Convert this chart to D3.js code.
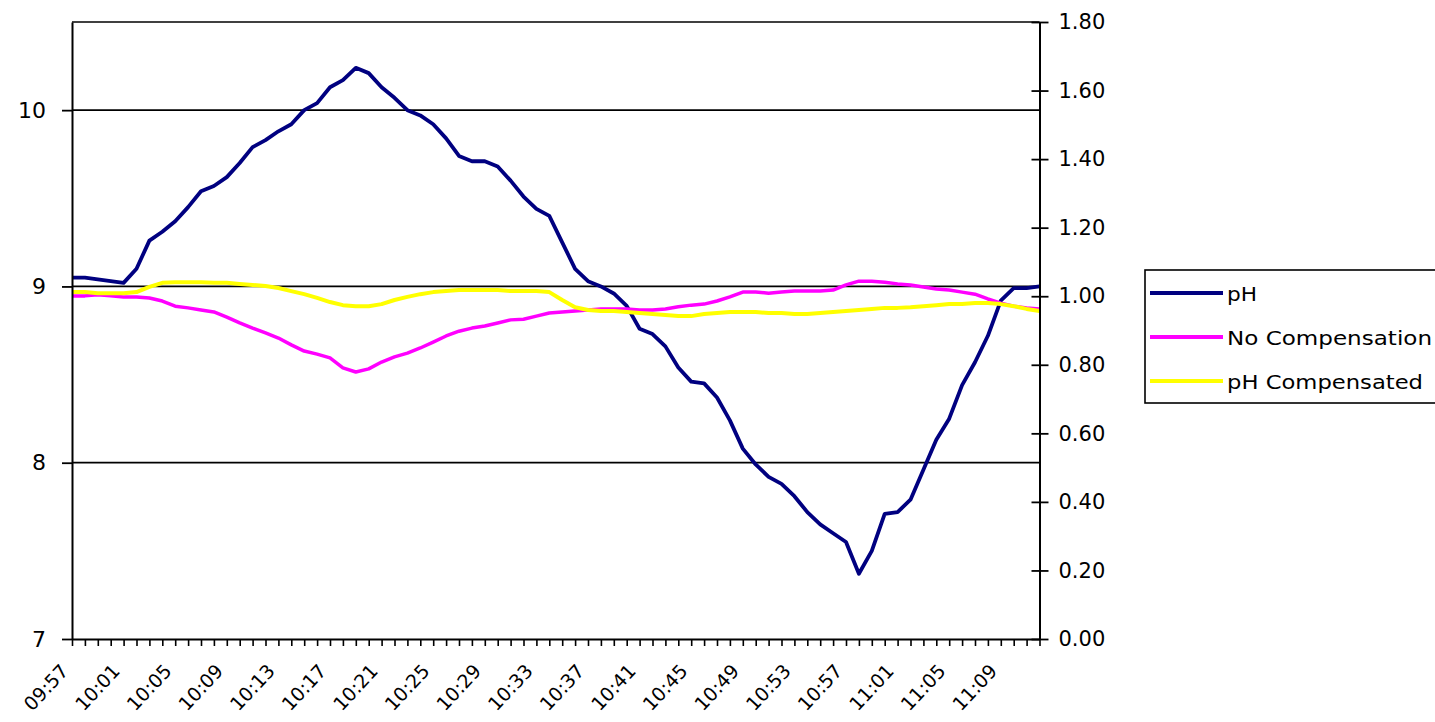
<!DOCTYPE html>
<html><head><meta charset="utf-8">
<script src="https://cdn.jsdelivr.net/npm/d3@7"></script>
<style>
body{margin:0;background:#fff;}
svg{display:block;}
text{font-family:"DejaVu Sans",Verdana,sans-serif;fill:#000;}
</style>
</head><body>
<svg id="c" width="1435" height="722"></svg>
<script>
// ---- data ----
const times = ["09:57","09:58","09:59","10:00","10:01","10:02","10:03","10:04","10:05","10:06",
"10:07","10:08","10:09","10:10","10:11","10:12","10:13","10:14","10:15","10:16",
"10:17","10:18","10:19","10:20","10:21","10:22","10:23","10:24","10:25","10:26",
"10:27","10:28","10:29","10:30","10:31","10:32","10:33","10:34","10:35","10:36",
"10:37","10:38","10:39","10:40","10:41","10:42","10:43","10:44","10:45","10:46",
"10:47","10:48","10:49","10:50","10:51","10:52","10:53","10:54","10:55","10:56",
"10:57","10:58","10:59","11:00","11:01","11:02","11:03","11:04","11:05","11:06",
"11:07","11:08","11:09","11:10","11:11","11:12"];

const pH = [9.05,9.05,9.04,9.03,9.02,9.10,9.26,9.31,9.37,9.45,
9.54,9.57,9.62,9.70,9.79,9.83,9.88,9.92,10.00,10.04,
10.13,10.17,10.24,10.21,10.13,10.07,10.00,9.97,9.92,9.84,
9.74,9.71,9.71,9.68,9.60,9.51,9.44,9.40,9.25,9.10,
9.03,9.00,8.96,8.89,8.76,8.73,8.66,8.54,8.46,8.45,
8.37,8.24,8.08,7.99,7.92,7.88,7.81,7.72,7.65,7.60,
7.55,7.37,7.50,7.71,7.72,7.79,7.96,8.13,8.25,8.44,
8.57,8.72,8.92,8.99,8.99,9.00];

const noCompensation = [1.001,1.001,1.004,1.001,0.998,0.998,0.995,0.986,0.971,0.966,
0.960,0.954,0.939,0.922,0.907,0.893,0.878,0.858,0.840,0.831,
0.820,0.791,0.779,0.788,0.808,0.823,0.834,0.849,0.866,0.884,
0.898,0.907,0.913,0.922,0.931,0.933,0.942,0.951,0.954,0.957,
0.960,0.963,0.963,0.963,0.960,0.960,0.963,0.969,0.974,0.977,
0.986,0.998,1.012,1.012,1.009,1.012,1.015,1.015,1.015,1.018,
1.033,1.044,1.044,1.041,1.036,1.033,1.027,1.021,1.018,1.012,
1.006,0.992,0.980,0.971,0.966,0.963];

const pHCompensated = [1.012,1.012,1.009,1.009,1.009,1.012,1.027,1.039,1.041,1.041,
1.041,1.039,1.039,1.036,1.033,1.030,1.024,1.015,1.006,0.995,
0.983,0.974,0.971,0.971,0.977,0.989,0.998,1.006,1.012,1.015,
1.018,1.018,1.018,1.018,1.015,1.015,1.015,1.012,0.989,0.968,
0.960,0.957,0.957,0.954,0.951,0.948,0.945,0.942,0.942,0.948,
0.951,0.954,0.954,0.954,0.951,0.951,0.948,0.948,0.951,0.954,
0.957,0.960,0.963,0.966,0.966,0.968,0.971,0.974,0.977,0.977,
0.980,0.980,0.977,0.971,0.963,0.957];

const leftTicks = [7, 8, 9, 10];
const leftGrid = [8, 9, 10];
const rightTicks = [0, 0.2, 0.4, 0.6, 0.8, 1.0, 1.2, 1.4, 1.6, 1.8];
const seriesNames = ["pH", "No Compensation", "pH Compensated"];
const seriesColors = ["#000080", "#ff00ff", "#ffff00"];

// ---- layout ----
const L = 72, R = 1039.5, T = 22, B = 639;
const svg = d3.select("#c");

const x = d3.scalePoint().domain(times).range([L, R]).padding(0);
const yL = d3.scaleLinear().domain([7, 10.5]).range([B, T]);
const yR = d3.scaleLinear().domain([0, 1.8]).range([B, T]);

// gridlines + top border
svg.append("g").selectAll("line").data(leftGrid).join("line")
  .attr("x1", L).attr("x2", R)
  .attr("y1", d => yL(d)).attr("y2", d => yL(d))
  .attr("stroke", "#000").attr("stroke-width", 1.8);
svg.append("line").attr("x1", L).attr("x2", R).attr("y1", T).attr("y2", T)
  .attr("stroke", "#000").attr("stroke-width", 1.5);

// series
const lineL = d3.line().x((d, i) => x(times[i])).y(d => yL(d));
const lineR = d3.line().x((d, i) => x(times[i])).y(d => yR(d));
svg.append("path").datum(pH).attr("d", lineL)
  .attr("fill", "none").attr("stroke", seriesColors[0]).attr("stroke-width", 3.8).attr("stroke-linejoin","round");
svg.append("path").datum(noCompensation).attr("d", lineR)
  .attr("fill", "none").attr("stroke", seriesColors[1]).attr("stroke-width", 3.5).attr("stroke-linejoin","round");
svg.append("path").datum(pHCompensated).attr("d", lineR)
  .attr("fill", "none").attr("stroke", seriesColors[2]).attr("stroke-width", 4).attr("stroke-linejoin","round");

// axes
const gx = svg.append("g").attr("transform", `translate(0,${B})`)
  .call(d3.axisBottom(x).tickValues(times).tickSize(7).tickSizeOuter(0)
    .tickFormat((d, i) => i % 4 === 0 ? d : ""));
gx.select(".domain").attr("stroke-width", 2);
gx.selectAll(".tick line").attr("stroke-width", 1.6);
gx.selectAll(".tick text")
  .attr("x", 0).attr("y", 0).attr("dy", 0)
  .attr("transform", "translate(-3,33) rotate(-47)")
  .style("text-anchor", "end").style("font-size", "19px")
  .style("font-family", '"DejaVu Sans",Verdana,sans-serif');

const gl = svg.append("g").attr("transform", `translate(${L},0)`)
  .call(d3.axisLeft(yL).tickValues(leftTicks).tickSize(10).tickSizeOuter(0).tickPadding(16)
    .tickFormat(d3.format("d")));
gl.select(".domain").attr("stroke-width", 2);
gl.selectAll(".tick line").attr("stroke-width", 1.8);
gl.selectAll(".tick text").style("font-size", "22px")
  .style("font-family", '"DejaVu Sans",Verdana,sans-serif');

const gr = svg.append("g").attr("transform", `translate(${R},0)`)
  .call(d3.axisRight(yR).tickValues(rightTicks).tickSize(9).tickSizeOuter(0).tickPadding(10)
    .tickFormat(d3.format(".2f")));
gr.select(".domain").attr("stroke-width", 2);
gr.selectAll(".tick line").attr("x1", -8).attr("stroke-width", 1.8);
gr.selectAll(".tick text").style("font-size", "21px")
  .style("font-family", '"DejaVu Sans",Verdana,sans-serif');

// legend
const lg = svg.append("g");
lg.append("rect").attr("x", 1145).attr("y", 270).attr("width", 310).attr("height", 133)
  .attr("fill", "#fff").attr("stroke", "#000").attr("stroke-width", 1.6);
const legendY = [293, 337, 381];
const legendW = [30, 205, 196];
seriesNames.forEach((n, i) => {
  lg.append("line").attr("x1", 1150).attr("x2", 1223)
    .attr("y1", legendY[i]).attr("y2", legendY[i])
    .attr("stroke", seriesColors[i]).attr("stroke-width", 4);
  lg.append("text").attr("x", 1227).attr("y", legendY[i] + 8)
    .attr("textLength", legendW[i]).attr("lengthAdjust", "spacingAndGlyphs")
    .style("font-size", "20px").text(n);
});
</script>
</body></html>
